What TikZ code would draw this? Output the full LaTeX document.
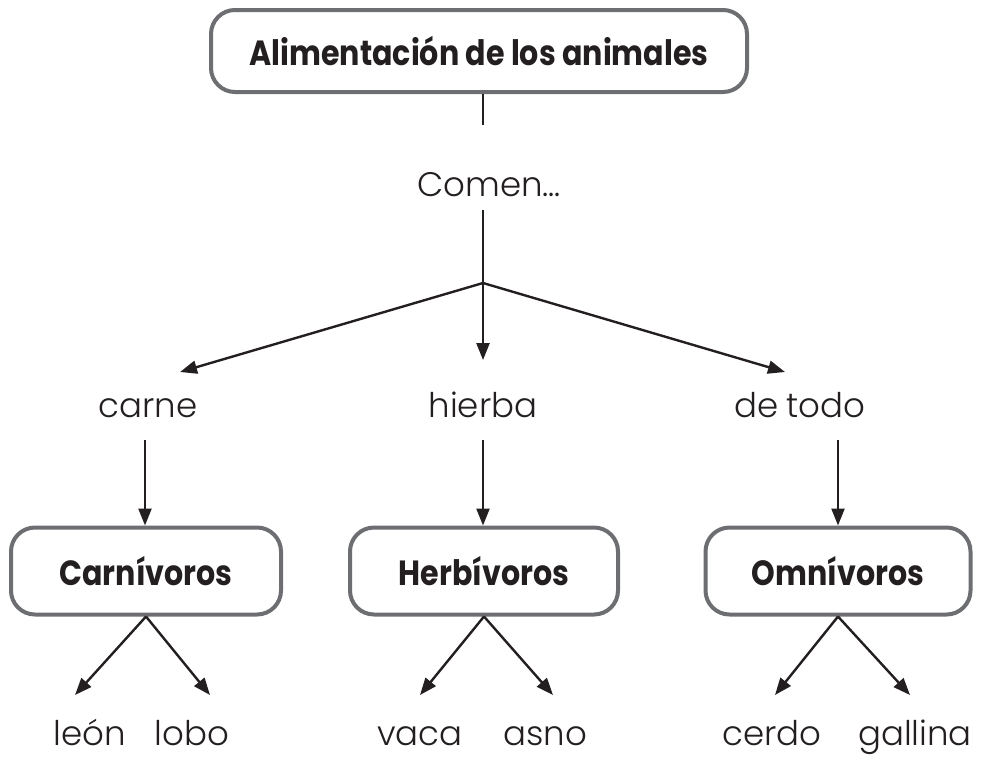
\documentclass[tikz,border=0pt]{standalone}
\usepackage{fontspec}
\setmainfont{Poppins}[UprightFont=* Light,BoldFont=* Bold]
\newfontfamily\titlefont{Poppins}[FakeStretch=0.86,UprightFont=* Bold]
\usetikzlibrary{arrows.meta}
\definecolor{boxgray}{HTML}{6D6E71}
\definecolor{ink}{HTML}{231F20}
\begin{document}
\begin{tikzpicture}[x=1pt,y=-1pt,
  box/.style={draw=boxgray,line width=4pt,rounded corners=24pt,fill=white,inner sep=0pt,font=\titlefont\fontsize{35}{40}\selectfont,text=ink},
  lbl/.style={font=\fontsize{34}{40}\selectfont,text=ink,inner sep=0pt,anchor=base},
  conn/.style={draw=ink,line width=2.4pt},
  arr/.style={conn,-{Triangle[length=17pt,width=13pt]}}]
\useasboundingbox (0,0) rectangle (984,756);
\node[box,minimum width=536pt,minimum height=82pt] (top) at (479,51) {Alimentación de los animales};
\node[lbl] (comen) at (489,196) {Comen…};
\coordinate (br) at (483,283);
\node[lbl] (carne) at (148,417) {carne};
\node[lbl] (hierba) at (483,417) {hierba};
\node[lbl] (todo) at (800,417) {\spaceskip=0.22em\relax de todo};
\node[box,minimum width=270pt,minimum height=87pt] (carn) at (146,571) {Carnívoros};
\node[box,minimum width=268pt,minimum height=87pt] (herb) at (484,571) {Herbívoros};
\node[box,minimum width=265pt,minimum height=87pt] (omni) at (838,571) {Omnívoros};
\node[lbl] (leon) at (90,745) {león};
\node[lbl] (lobo) at (192,745) {lobo};
\node[lbl] (vaca) at (420,745) {vaca};
\node[lbl] (asno) at (545,745) {asno};
\node[lbl] (cerdo) at (772,745) {cerdo};
\node[lbl] (gall) at (915,745) {gallina};
\coordinate (c1) at (483,125);
\coordinate (c2) at (483,210);
\draw[conn] (top.south -| c1) -- (c1);
\draw[conn] (c2) -- (br);
\draw[arr] (br) -- (180,372);
\draw[arr] (br) -- (483,360);
\draw[arr] (br) -- (785,372);
\draw[arr] (145,440) -- (carn.north -| 145,0);
\draw[arr] (483,440) -- (herb.north -| 483,0);
\draw[arr] (838,440) -- (omni.north -| 838,0);
\draw[arr] (carn.south) -- (75,695);
\draw[arr] (carn.south) -- (210,695);
\draw[arr] (herb.south) -- (420,695);
\draw[arr] (herb.south) -- (553,695);
\draw[arr] (omni.south) -- (775,695);
\draw[arr] (omni.south) -- (910,695);
\end{tikzpicture}
\end{document}
